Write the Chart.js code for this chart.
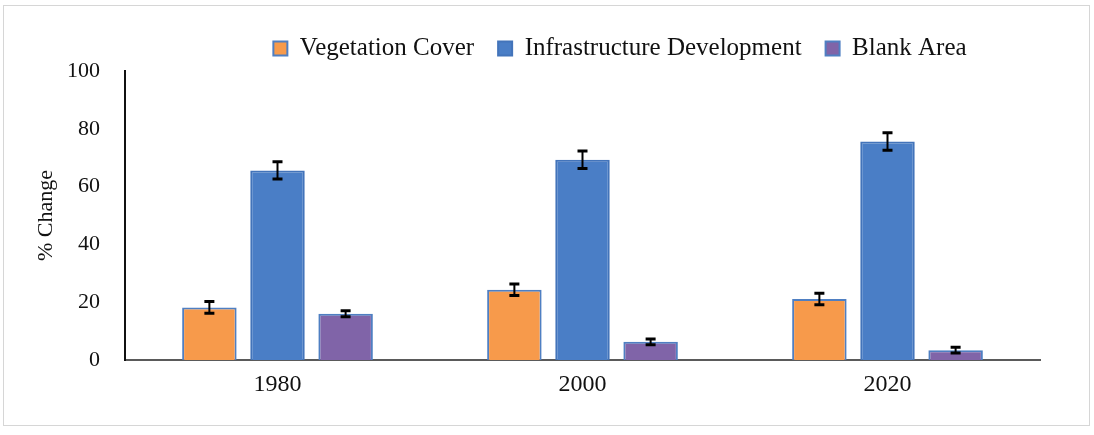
<!DOCTYPE html>
<html lang="en">
<head>
  <meta charset="UTF-8">
  <title>% Change by Year</title>
  <script src="https://cdn.jsdelivr.net/npm/chart.js"></script>
  <style>
    html, body { margin: 0; padding: 0; background: #fff; }
    #wrap { position: relative; width: 1094px; height: 435px; }
    #frame { position: absolute; left: 3px; top: 5px; width: 1085px; height: 419px; border: 1px solid #d6d6d6; pointer-events: none; }
  </style>
</head>
<body>
  <div id="wrap">
    <canvas id="landChart" width="1094" height="435"></canvas>
    <div id="frame"></div>
  </div>

  <script>
    // Values
    const years = ['1980', '2000', '2020'];
    const vegetation = [18.2, 24.3, 21.1];
    const infrastructure = [65.6, 69.3, 75.6];
    const blank = [16.0, 6.3, 3.4];
    // error bar half-widths
    const vegetationErr = [2, 2, 2];
    const infrastructureErr = [3, 3, 3];
    const blankErr = [1, 1, 1];
    const yTicks = [0, 20, 40, 60, 80, 100];

    const serif = '"Liberation Serif", "Times New Roman", serif';

    // draws the black I-shaped error bars on top of every bar
    const errorBars = {
      id: 'errorBars',
      afterDatasetsDraw(chart) {
        const ctx = chart.ctx;
        const yScale = chart.scales.y;
        chart.data.datasets.forEach((ds, i) => {
          const meta = chart.getDatasetMeta(i);
          meta.data.forEach((bar, j) => {
            const v = ds.data[j], e = ds.errors[j];
            const top = yScale.getPixelForValue(v + e);
            const bot = yScale.getPixelForValue(v - e);
            ctx.save();
            ctx.strokeStyle = '#000';
            ctx.lineWidth = 2;
            ctx.beginPath();
            ctx.moveTo(bar.x, top);
            ctx.lineTo(bar.x, bot);
            ctx.stroke();
            ctx.lineWidth = 3;
            ctx.beginPath();
            ctx.moveTo(bar.x - 5, top);
            ctx.lineTo(bar.x + 5, top);
            ctx.moveTo(bar.x - 5, bot);
            ctx.lineTo(bar.x + 5, bot);
            ctx.stroke();
            ctx.restore();
          });
        });
      }
    };

    // the legend in the reference sits right of centre
    const legendShift = {
      id: 'legendShift',
      afterLayout(chart) {
        const lg = chart.legend;
        const dx = 620 - (lg.left + lg.right) / 2;
        lg.left += dx;
        lg.right += dx;
      }
    };

    const ctx = document.getElementById('landChart').getContext('2d');
    new Chart(ctx, {
      type: 'bar',
      data: {
        labels: years,
        datasets: [
          {
            label: 'Vegetation Cover',
            data: vegetation,
            errors: vegetationErr,
            backgroundColor: '#F79A4B',
            borderColor: '#4F7FC2',
            borderWidth: 2
          },
          {
            label: 'Infrastructure Development',
            data: infrastructure,
            errors: infrastructureErr,
            backgroundColor: '#4A7EC6',
            borderColor: '#4374BA',
            borderWidth: 2
          },
          {
            label: 'Blank Area',
            data: blank,
            errors: blankErr,
            backgroundColor: '#8064A8',
            borderColor: '#4F7FC2',
            borderWidth: 2
          }
        ]
      },
      options: {
        responsive: false,
        animation: false,
        categoryPercentage: 0.67,
        barPercentage: 0.8,
        layout: { padding: { left: 0, right: 54, top: 12, bottom: 0 } },
        scales: {
          x: {
            grid: { display: false },
            border: { display: true, color: '#5a5a5a', width: 2 },
            ticks: { color: '#111', font: { family: serif, size: 24 }, padding: 2 },
            afterFit(scale) { scale.height = 75; }
          },
          y: {
            min: 0,
            max: 100,
            afterBuildTicks(scale) { scale.ticks = yTicks.map(v => ({ value: v })); },
            grid: { display: false },
            border: { display: true, color: '#111', width: 2 },
            ticks: { color: '#111', font: { family: serif, size: 22 }, padding: 17 },
            title: {
              display: true,
              text: '% Change',
              color: '#111',
              font: { family: serif, size: 22 },
              padding: { top: 33, bottom: 0 }
            },
            afterFit(scale) { scale.width = 125; }
          }
        },
        plugins: {
          legend: {
            position: 'top',
            labels: {
              color: '#111',
              font: { family: serif, size: 25 },
              boxWidth: 14,
              boxHeight: 14,
              padding: 24
            }
          },
          tooltip: { enabled: false }
        }
      },
      plugins: [errorBars, legendShift]
    });
  </script>
</body>
</html>
